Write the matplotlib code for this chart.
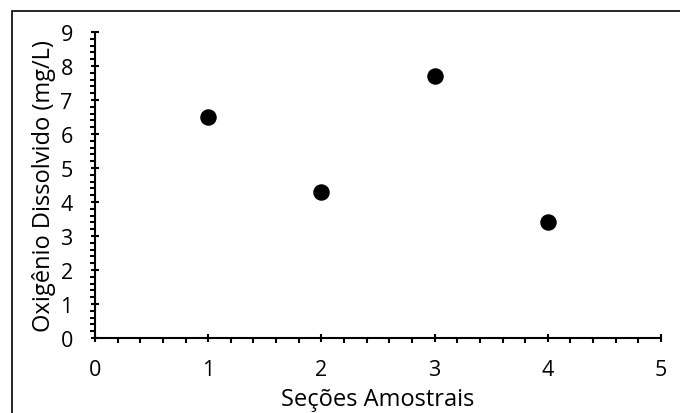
import matplotlib
matplotlib.use("Agg")
import matplotlib.pyplot as plt
from matplotlib.patches import Rectangle
from matplotlib.ticker import MultipleLocator

# ----------------------------------------------------------------------------------------------
# data
secoes = [1, 2, 3, 4]
oxigenio = [6.5, 4.3, 7.7, 3.4]

x_label = "Seções Amostrais"
y_label = "Oxigênio Dissolvido (mg/L)"

plt.rcParams['font.family'] = ['Open Sans', 'DejaVu Sans']

fig = plt.figure(figsize=(6.8, 4.14), dpi=100)
ax = fig.add_axes([95/680, 75/414, (661-95)/680, (339-33)/414])

ax.scatter(secoes, oxigenio, s=118, color='black', zorder=3, clip_on=False)

ax.set_xlim(0, 5)
ax.set_ylim(0, 9)
ax.xaxis.set_major_locator(MultipleLocator(1))
ax.xaxis.set_minor_locator(MultipleLocator(0.2))
ax.yaxis.set_major_locator(MultipleLocator(1))
ax.yaxis.set_minor_locator(MultipleLocator(0.2))

# Excel-like axes: only left and bottom spines
for side in ['top', 'right']:
    ax.spines[side].set_visible(False)
for side in ['left', 'bottom']:
    ax.spines[side].set_linewidth(1.5)

ax.tick_params(which='major', direction='inout', length=6, width=1.5, labelsize=15.5, pad=12)
ax.tick_params(axis='y', which='major', pad=13)
ax.tick_params(which='minor', direction='out', length=3.5, width=1.5)

ax.set_xlabel(x_label, fontsize=17, labelpad=5)
ax.set_ylabel(y_label, fontsize=17, labelpad=3)

# border around the chart area (cut at right and bottom edges)
fig.patches.append(Rectangle((12/680, -0.1), 1.2, 1 - 12/414 + 0.1, transform=fig.transFigure,
                             fill=False, edgecolor='black', linewidth=1.2))

fig.savefig("out.png", dpi=100)
